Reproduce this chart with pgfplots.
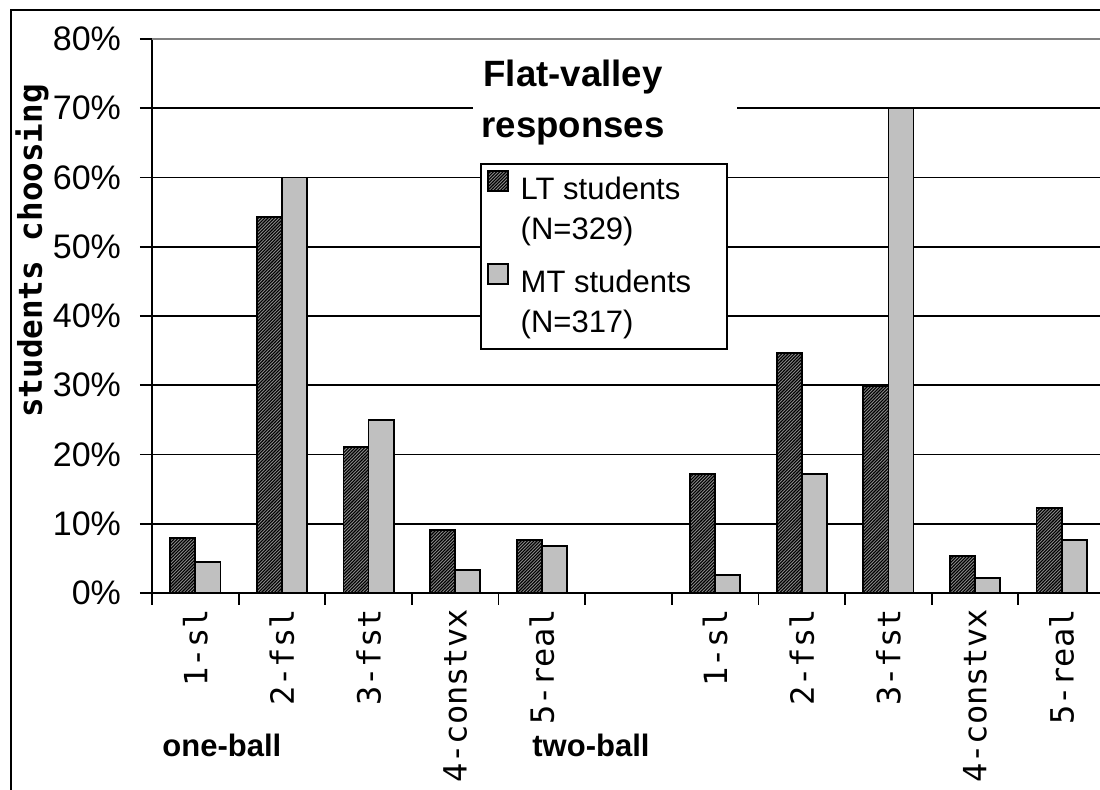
\documentclass[border=0pt]{standalone}
\usepackage{pgfplots}
\pgfplotsset{compat=1.18}
\usepackage{fontspec}
\setmainfont{Liberation Sans}
\newfontfamily\monofont{DejaVu Sans Mono}
\usetikzlibrary{patterns}
\pgfdeclarepatternformonly{densene}{\pgfqpoint{-1pt}{-1pt}}{\pgfqpoint{2.6pt}{2.6pt}}{\pgfqpoint{1.6pt}{1.6pt}}{%
  \pgfsetlinewidth{0.55pt}%
  \pgfpathmoveto{\pgfqpoint{0pt}{0pt}}%
  \pgfpathlineto{\pgfqpoint{1.7pt}{1.7pt}}%
  \pgfusepath{stroke}}
\definecolor{mtgray}{RGB}{192,192,192}
\definecolor{ltgray}{RGB}{140,140,140}
\begin{document}
\begin{tikzpicture}
\begin{axis}[
  scale only axis,
  width=476.5pt, height=277pt,
  xmin=-0.5, xmax=10.5,
  ymin=0, ymax=80,
  axis x line*=bottom, axis y line*=left,
  axis line style={line width=0.9pt},
  tick align=outside,
  tick style={black, line width=0.9pt},
  xtick={-0.5,0.5,...,9.5},
  xticklabels={},
  major tick length=6pt,
  xticklabel style={rotate=90, anchor=east, font=\monofont\fontsize{16}{18}\selectfont, xshift=-8pt, inner sep=0pt},
  extra x ticks={0,1,2,3,4,6,7,8,9,10},
  extra x tick labels={1-sl,2-fsl,3-fst,4-constvx,5-real,1-sl,2-fsl,3-fst,4-constvx,5-real},
  extra x tick style={major tick length=0pt, grid=none},
  ytick={0,10,...,70},
  yticklabels={0\%,10\%,20\%,30\%,40\%,50\%,60\%,70\%},
  extra y ticks={80},
  extra y tick labels={80\%},
  extra y tick style={ymajorgrids=true, major grid style={draw=gray, line width=1pt}},
  yticklabel style={font=\fontsize{17}{19}\selectfont, xshift=-6pt},
  ymajorgrids,
  major grid style={black, line width=0.9pt},
  /pgf/number format/assume math mode=true,
  ybar=0pt,
  bar width=0.29,
  legend cell align=left,
  legend style={at={(0.3442,0.776)}, anchor=north west, draw=black, line width=0.9pt,
    fill=white, font=\fontsize{15.5}{18}\selectfont, row sep=3.5pt, inner sep=3pt,
    nodes={text height=11pt, inner sep=2pt}},
  legend image code/.code={\draw[#1, line width=0.9pt] (0pt,-0.5pt) rectangle (10pt,9.5pt); \path (14pt,0pt);},
]
\addplot[draw=black, line width=0.9pt, fill=ltgray, postaction={pattern=densene}, bar shift=-0.145]
  coordinates {(0,7.9) (1,54.3) (2,21.1) (3,9.1) (4,7.65) (6,17.2) (7,34.7) (8,29.9) (9,5.3) (10,12.3)};
\addlegendentry{\makebox[98pt][l]{LT students}}
\addlegendimage{empty legend}
\addlegendentry[text depth=6.5pt]{(N=329)}
\addplot[draw=black, line width=0.9pt, fill=mtgray, bar shift=0.145]
  coordinates {(0,4.5) (1,60) (2,25) (3,3.3) (4,6.8) (6,2.6) (7,17.2) (8,70) (9,2.2) (10,7.7)};
\addlegendentry{MT students}
\addlegendimage{empty legend}
\addlegendentry[text depth=3pt]{(N=317)}
\end{axis}
\node[fill=white, minimum width=132pt, minimum height=47.5pt, inner sep=0pt] at (226.5pt,242.75pt) {};
\node[align=center, inner sep=0pt,
      font=\bfseries\fontsize{18.3}{25.5}\selectfont] at (210.5pt,245pt) {Flat-valley\\responses};
\node[rotate=90, font=\monofont\bfseries\fontsize{16.3}{18}\selectfont] at (-60pt,171pt) {students choosing};
\node[anchor=base west, inner sep=0pt, font=\bfseries\fontsize{15.5}{18}\selectfont] at (5pt,-82pt) {one-ball};
\node[anchor=base west, inner sep=0pt, font=\bfseries\fontsize{15.5}{18}\selectfont] at (190pt,-82pt) {two-ball};
\draw[line width=1pt] (-70.5pt,-130pt) -- (-70.5pt,291.5pt) -- (520pt,291.5pt);
\pgfresetboundingbox
\useasboundingbox (-76pt,-98.5pt) rectangle (474pt,296.5pt);
\end{tikzpicture}
\end{document}
